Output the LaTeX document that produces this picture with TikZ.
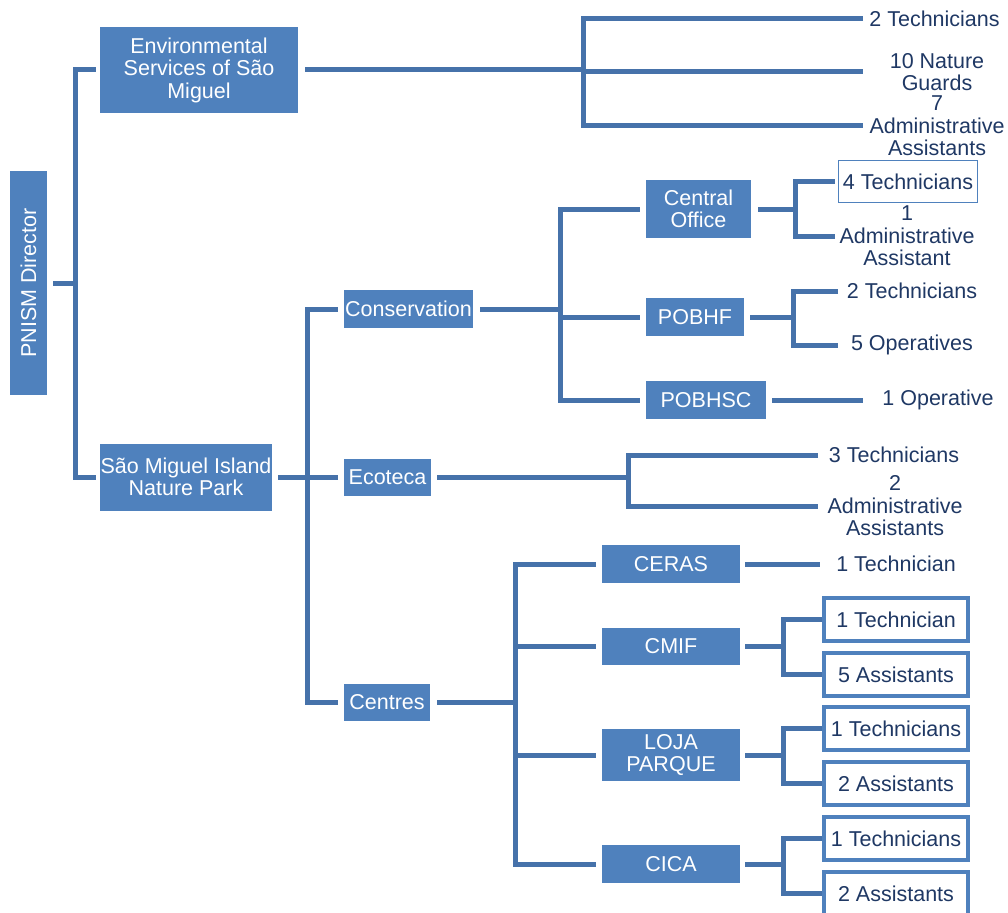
\documentclass[tikz,border=0pt]{standalone}
\usepackage{fontspec}
\setmainfont{Liberation Sans}
\usepackage{graphicx}
\definecolor{boxblue}{RGB}{79,129,189}
\definecolor{lineblue}{RGB}{70,114,170}
\definecolor{txtblue}{RGB}{31,56,100}
\newcommand{\labfont}{\fontsize{21.5pt}{22.5pt}\selectfont}
\newcommand{\boxfont}{\fontsize{21.5pt}{22.5pt}\selectfont}
\begin{document}
\begin{tikzpicture}[x=1pt,y={(0pt,-1pt)},
  box/.style={fill=boxblue, text=white, inner sep=0pt, align=center, font=\boxfont},
  lab/.style={text=txtblue, inner sep=0pt, align=center, font=\labfont},
  obox/.style={lab, draw=boxblue, line width=4pt, fill=white, minimum width=144pt, minimum height=43pt},
  conn/.style={draw=lineblue, line width=5pt}]
\useasboundingbox (0,0) rectangle (1008,912);

% main boxes
\node[box, minimum width=37pt, minimum height=224pt] (dir) at (28.5,283) {\rotatebox{90}{PNISM Director}};
\node[box, minimum width=198pt, minimum height=86pt] (es) at (199,70) {Environmental\\Services of São\\Miguel};
\node[box, minimum width=172pt, minimum height=67pt] (sm) at (186,477) {São Miguel Island\\Nature Park};
\node[box, minimum width=129pt, minimum height=38pt] (cons) at (408.5,309) {Conservation};
\node[box, minimum width=87pt, minimum height=37pt] (eco) at (387.5,477) {Ecoteca};
\node[box, minimum width=86pt, minimum height=37pt] (cen) at (387,702) {Centres};
\node[box, minimum width=105pt, minimum height=58pt] (co) at (698.5,209) {Central\\Office};
\node[box, minimum width=98pt, minimum height=38pt] (pobhf) at (695,317) {POBHF};
\node[box, minimum width=120pt, minimum height=38pt] (pobhsc) at (706,400) {POBHSC};
\node[box, minimum width=138pt, minimum height=38pt] (ceras) at (671,564) {CERAS};
\node[box, minimum width=138pt, minimum height=37pt] (cmif) at (671,646) {CMIF};
\node[box, minimum width=138pt, minimum height=52pt] (loja) at (671,755) {LOJA\\PARQUE};
\node[box, minimum width=138pt, minimum height=38pt] (cica) at (671,864) {CICA};

% labels
\node[lab] (l1) at (934.5,19) {2 Technicians};
\node[lab] (l2) at (937,72) {10 Nature\\Guards};
\node[lab] (l3) at (937,126) {7\\Administrative\\Assistants};
\node[lab, draw=boxblue, line width=1.5pt, fill=white, minimum width=139pt, minimum height=42pt] (t4) at (908,181.5) {4 Technicians};
\node[lab] (l5) at (907,236) {1\\Administrative\\Assistant};
\node[lab] (l6) at (912,291) {2 Technicians};
\node[lab] (l7) at (912,345) {5 Operatives};
\node[lab] (l8) at (938,400) {1 Operative};
\node[lab] (l9) at (894,455) {3 Technicians};
\node[lab] (l10) at (895,506) {2\\Administrative\\Assistants};
\node[lab] (l11) at (896,564) {1 Technician};
\node[obox] (b1) at (896,619.5) {1 Technician};
\node[obox] (b2) at (896,674.5) {5 Assistants};
\node[obox] (b3) at (896,728.5) {1 Technicians};
\node[obox] (b4) at (896,783.5) {2 Assistants};
\node[obox] (b5) at (896,838.5) {1 Technicians};
\node[obox] (b6) at (896,893.5) {2 Assistants};

% trunks and free ends
\coordinate (T0) at (75,0);
\coordinate (T1) at (583,0);
\coordinate (E1) at (863,0);
\coordinate (T2) at (307,0);
\coordinate (T3) at (560,0);
\coordinate (T4) at (795,0);
\coordinate (E4) at (835,0);
\coordinate (T5) at (793,0);
\coordinate (E5) at (838,0);
\coordinate (E8) at (863,0);
\coordinate (T6) at (628,0);
\coordinate (E6) at (818,0);
\coordinate (T7) at (515,0);
\coordinate (E11) at (820,0);
\coordinate (T8) at (783,0);

% director
\draw[conn] ([xshift=6pt]dir.east) -- (dir.east -| T0);
\draw[conn] ([xshift=-4pt]es.west) -| (T0 |- sm.west) -- ([xshift=-4pt]sm.west);
% environmental services
\draw[conn] ([xshift=7pt]es.east) -- (es.east -| T1);
\draw[conn] (E1 |- l1.west) -| (T1 |- l3.west) -- (E1 |- l3.west);
\draw[conn] (T1 |- l2.west) -- (E1 |- l2.west);
% nature park
\draw[conn] ([xshift=6pt]sm.east) -- ([xshift=-6pt]eco.west);
\draw[conn] ([xshift=-6pt]cons.west) -| (T2 |- cen.west) -- ([xshift=-6pt]cen.west);
% conservation
\draw[conn] ([xshift=7pt]cons.east) -- (cons.east -| T3);
\draw[conn] ([xshift=-6pt]co.west) -| (T3 |- pobhsc.west) -- ([xshift=-6pt]pobhsc.west);
\draw[conn] (T3 |- pobhf.west) -- ([xshift=-6pt]pobhf.west);
% central office
\draw[conn] ([xshift=7pt]co.east) -- (co.east -| T4);
\draw[conn] ([xshift=-3pt]t4.west) -| (T4 |- l5.west) -- (E4 |- l5.west);
% POBHF
\draw[conn] ([xshift=6pt]pobhf.east) -- (pobhf.east -| T5);
\draw[conn] (E5 |- l6.west) -| (T5 |- l7.west) -- (E5 |- l7.west);
% POBHSC
\draw[conn] ([xshift=6pt]pobhsc.east) -- (E8 |- l8.west);
% Ecoteca
\draw[conn] ([xshift=6pt]eco.east) -- (eco.east -| T6);
\draw[conn] (E6 |- l9.west) -| (T6 |- l10.west) -- (E6 |- l10.west);
% Centres
\draw[conn] ([xshift=7pt]cen.east) -- (cen.east -| T7);
\draw[conn] ([xshift=-6pt]ceras.west) -| (T7 |- cica.west) -- ([xshift=-6pt]cica.west);
\draw[conn] (T7 |- cmif.west) -- ([xshift=-6pt]cmif.west);
\draw[conn] (T7 |- loja.west) -- ([xshift=-6pt]loja.west);
% CERAS
\draw[conn] ([xshift=5pt]ceras.east) -- (E11 |- l11.west);
% CMIF
\draw[conn] ([xshift=5pt]cmif.east) -- (cmif.east -| T8);
\draw[conn] (b1.west) -| (T8 |- b2.west) -- (b2.west);
% LOJA
\draw[conn] ([xshift=5pt]loja.east) -- (loja.east -| T8);
\draw[conn] (b3.west) -| (T8 |- b4.west) -- (b4.west);
% CICA
\draw[conn] ([xshift=5pt]cica.east) -- (cica.east -| T8);
\draw[conn] (b5.west) -| (T8 |- b6.west) -- (b6.west);
\end{tikzpicture}
\end{document}
